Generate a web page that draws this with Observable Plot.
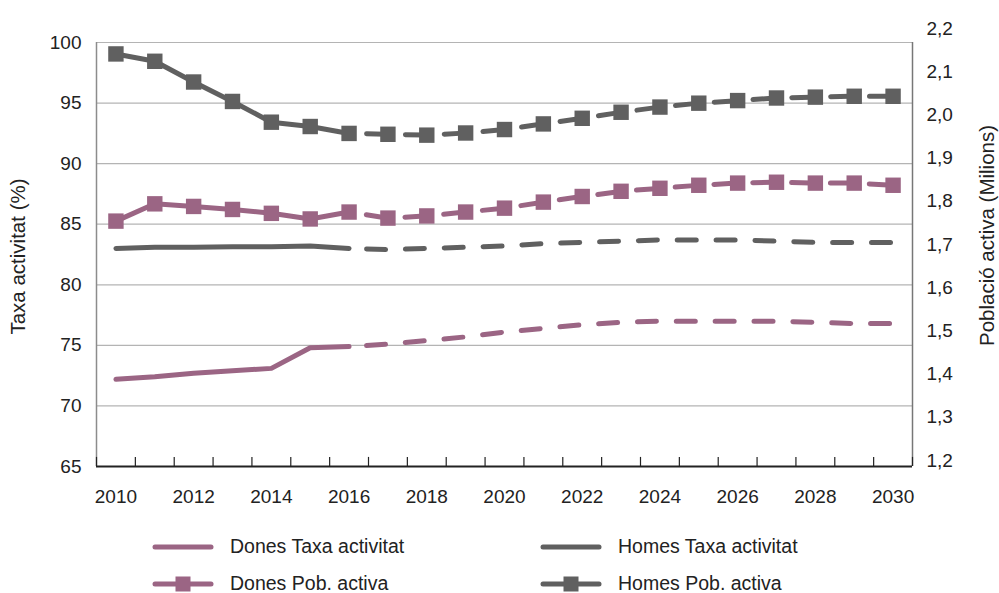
<!DOCTYPE html>
<html><head><meta charset="utf-8">
<script src="https://cdn.jsdelivr.net/npm/d3@7"></script>
<script src="https://cdn.jsdelivr.net/npm/@observablehq/plot@0.6"></script>
<style>
body{margin:0;background:#fff;font-family:"Liberation Sans",Arial,Helvetica,sans-serif;color:#222;}
#legend{margin-top:18px;padding-left:152px;display:grid;grid-template-columns:388px 300px;grid-auto-rows:37px;font-size:19.5px;}
.item{display:flex;align-items:center;}
.item svg{margin-right:16px;flex:none;}
</style></head><body><div id="chart"></div><div id="legend"></div>
<script>
// ---- data ----
const years = [2010,2011,2012,2013,2014,2015,2016,2017,2018,2019,2020,2021,2022,2023,2024,2025,2026,2027,2028,2029,2030];
const lastObserved = 2016;
const donesTaxa = [72.2,72.4,72.7,72.9,73.1,74.8,74.9,75.1,75.4,75.7,76.1,76.4,76.7,76.9,77.0,77.0,77.0,77.0,76.9,76.8,76.8];
const homesTaxa = [83.0,83.1,83.1,83.15,83.15,83.2,83.0,82.9,83.0,83.1,83.2,83.4,83.5,83.6,83.7,83.7,83.7,83.6,83.5,83.5,83.5];
const donesPob = [1.754,1.794,1.788,1.781,1.772,1.759,1.775,1.761,1.766,1.775,1.784,1.798,1.811,1.823,1.830,1.837,1.842,1.844,1.842,1.842,1.837];
const homesPob = [2.141,2.124,2.076,2.031,1.983,1.973,1.957,1.955,1.953,1.958,1.966,1.979,1.992,2.006,2.018,2.027,2.033,2.039,2.041,2.043,2.043];
const leftTicks = [65,70,75,80,85,90,95,100];
const rightTicks = [1.2,1.3,1.4,1.5,1.6,1.7,1.8,1.9,2.0,2.1,2.2];
const xLabelYears = [2010,2012,2014,2016,2018,2020,2022,2024,2026,2028,2030];
const seriesNames = ["Dones Taxa activitat","Homes Taxa activitat","Dones Pob. activa","Homes Pob. activa"];
const colors = {dones:"#9b6584", homes:"#606060"};

// ---- secondary axis mapping (millions -> left-axis units) ----
const rA = 1.2, rB = 2.2, lA = 65.5, lB = 101.16;
const toLeft = m => lA + (m - rA) * (lB - lA) / (rB - rA);
const fmtComma = d => d3.format(".1f")(d).replace(".", ",");

const rows = (vals, map = v => v) => years.map((year, i) => ({year, v: map(vals[i])}));
const seriesDT = rows(donesTaxa), seriesHT = rows(homesTaxa);
const seriesDP = rows(donesPob, toLeft), seriesHP = rows(homesPob, toLeft);
const solid = s => s.filter(d => d.year <= lastObserved);
const dashed = s => s.filter(d => d.year >= lastObserved);
const boundaries = years.map(y => y - 0.5).concat([years[years.length - 1] + 0.5]);

const lineOpts = c => ({x: "year", y: "v", stroke: c, strokeWidth: 5, strokeLinecap: "round", strokeLinejoin: "round"});
const dashOpts = c => ({...lineOpts(c), strokeDasharray: "19,19.86", strokeDashoffset: 21.36});

const chart = Plot.plot({
  width: 999, height: 510,
  marginLeft: 96, marginRight: 87, marginTop: 42, marginBottom: 44,
  style: {fontFamily: '"Liberation Sans", Arial, Helvetica, sans-serif', color: "#222", background: "#fff"},
  x: {type: "linear", domain: [years[0] - 0.5, years[years.length - 1] + 0.5]},
  y: {type: "linear", domain: [65, 100]},
  marks: [
    Plot.gridY(leftTicks.filter(t => t > 65), {stroke: "#b4b4b4", strokeOpacity: 1, strokeWidth: 1.2}),
    Plot.ruleX([boundaries[0]], {stroke: "#8c8c8c", strokeWidth: 1.5}),
    Plot.ruleX([boundaries[boundaries.length - 1]], {stroke: "#777", strokeWidth: 1.5}),
    Plot.ruleX(boundaries, {x: d => d, y1: 65, y2: 65.75, stroke: "#222", strokeWidth: 1.2}),
    Plot.ruleY([65], {stroke: "#222", strokeWidth: 2}),
    Plot.axisY({ticks: leftTicks, tickSize: 0, tickPadding: 15, fontSize: 19, label: null}),
    Plot.axisY({anchor: "right", ticks: rightTicks.map(toLeft), tickFormat: v => fmtComma(rA + (v - lA) * (rB - rA) / (lB - lA)), tickSize: 0, tickPadding: 14, fontSize: 19, label: null}),
    Plot.axisX({ticks: xLabelYears, tickFormat: d => String(d), tickSize: 0, tickPadding: 23, fontSize: 19, label: null}),
    Plot.text(["Taxa activitat (%)"], {text: d => d, frameAnchor: "left", textAnchor: "middle", dx: -78, dy: 2, rotate: -90, fontSize: 20.5, fill: "#222"}),
    Plot.text(["Població activa (Milions)"], {text: d => d, frameAnchor: "right", textAnchor: "middle", dx: 75, dy: -19, rotate: -90, fontSize: 20.5, fill: "#222"}),
    // Taxa lines
    Plot.line(solid(seriesDT), lineOpts(colors.dones)),
    Plot.line(dashed(seriesDT), dashOpts(colors.dones)),
    Plot.line(solid(seriesHT), lineOpts(colors.homes)),
    Plot.line(dashed(seriesHT), dashOpts(colors.homes)),
    // Pob activa lines + markers
    Plot.line(solid(seriesDP), lineOpts(colors.dones)),
    Plot.line(dashed(seriesDP), dashOpts(colors.dones)),
    Plot.dot(seriesDP, {x: "year", y: "v", symbol: "square", r: 8.7, fill: colors.dones, stroke: "none"}),
    Plot.line(solid(seriesHP), lineOpts(colors.homes)),
    Plot.line(dashed(seriesHP), dashOpts(colors.homes)),
    Plot.dot(seriesHP, {x: "year", y: "v", symbol: "square", r: 8.7, fill: colors.homes, stroke: "none"})
  ]
});
document.getElementById("chart").appendChild(chart);

// ---- legend ----
const legendItems = [
  {name: seriesNames[0], color: colors.dones, marker: false},
  {name: seriesNames[1], color: colors.homes, marker: false},
  {name: seriesNames[2], color: colors.dones, marker: true},
  {name: seriesNames[3], color: colors.homes, marker: true}
];
const legend = d3.select("#legend");
legendItems.forEach(it => {
  const div = legend.append("div").attr("class", "item");
  const sw = div.append("svg").attr("width", 62).attr("height", 18);
  sw.append("line").attr("x1", 3).attr("x2", 59).attr("y1", 9).attr("y2", 9)
    .attr("stroke", it.color).attr("stroke-width", 5).attr("stroke-linecap", "round");
  if (it.marker) sw.append("rect").attr("x", 23.5).attr("y", 1.5).attr("width", 15).attr("height", 15).attr("fill", it.color);
  div.append("span").text(it.name);
});
</script></body></html>
